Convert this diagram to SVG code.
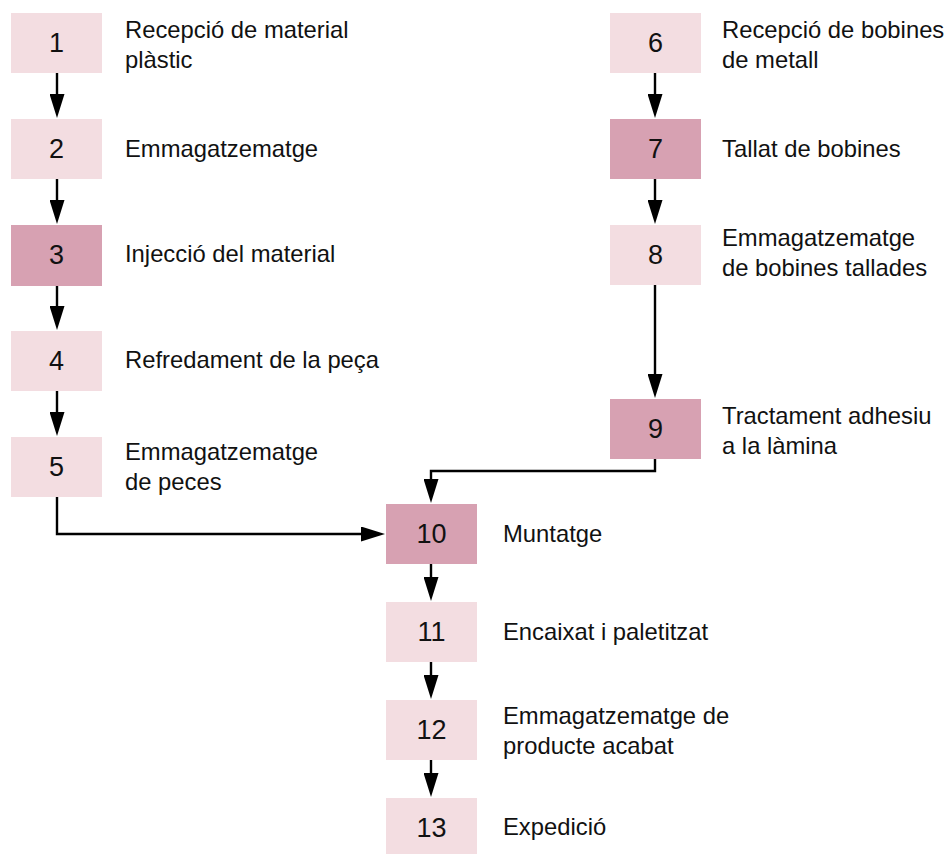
<svg xmlns="http://www.w3.org/2000/svg" width="950" height="854" viewBox="0 0 950 854">
<defs>
<style>
.lt{fill:#F3DDE1}
.dk{fill:#D7A1B2}
.num{font-family:"Liberation Sans",Arial,sans-serif;font-size:27px;fill:#111;text-anchor:middle}
.lbl{font-family:"Liberation Sans",Arial,sans-serif;font-size:23.8px;fill:#111}
.con{fill:none;stroke:#000;stroke-width:2.4;marker-end:url(#ah)}
</style>
<marker id="ah" markerUnits="userSpaceOnUse" markerWidth="24" markerHeight="15" refX="16" refY="7.5" orient="auto">
<path d="M0,0 L24,7.5 L0,15 z" fill="#000"/>
</marker>
</defs>
<rect width="950" height="854" fill="#fff"/>
<g id="connectors">
<path class="con" d="M57,73 V110"/>
<path class="con" d="M57,179 V216"/>
<path class="con" d="M57,286 V322"/>
<path class="con" d="M57,391 V428"/>
<path class="con" d="M57,497 V534 H377"/>
<path class="con" d="M655,73 V110"/>
<path class="con" d="M655,179 V216"/>
<path class="con" d="M655,285 V390"/>
<path class="con" d="M655,459 V471 H431 V495"/>
<path class="con" d="M431,564 V593"/>
<path class="con" d="M431,662 V691"/>
<path class="con" d="M431,760 V789"/>
</g>
<g id="n1"><rect class="lt" x="11" y="13" width="91" height="60"/><text class="num" x="56.5" y="52">1</text><text class="lbl" x="125" y="38">Recepció de material</text><text class="lbl" x="125" y="68">plàstic</text></g>
<g id="n2"><rect class="lt" x="11" y="119" width="91" height="60"/><text class="num" x="56.5" y="158">2</text><text class="lbl" x="125" y="157">Emmagatzematge</text></g>
<g id="n3"><rect class="dk" x="11" y="225" width="91" height="61"/><text class="num" x="56.5" y="264">3</text><text class="lbl" x="125" y="262">Injecció del material</text></g>
<g id="n4"><rect class="lt" x="11" y="331" width="91" height="60"/><text class="num" x="56.5" y="370">4</text><text class="lbl" x="125" y="368">Refredament de la peça</text></g>
<g id="n5"><rect class="lt" x="11" y="437" width="91" height="60"/><text class="num" x="56.5" y="476">5</text><text class="lbl" x="125" y="460">Emmagatzematge</text><text class="lbl" x="125" y="490">de peces</text></g>
<g id="n6"><rect class="lt" x="610" y="13" width="91" height="60"/><text class="num" x="655.5" y="52">6</text><text class="lbl" x="722" y="38">Recepció de bobines</text><text class="lbl" x="722" y="68">de metall</text></g>
<g id="n7"><rect class="dk" x="610" y="119" width="91" height="60"/><text class="num" x="655.5" y="158">7</text><text class="lbl" x="722" y="157">Tallat de bobines</text></g>
<g id="n8"><rect class="lt" x="610" y="225" width="91" height="60"/><text class="num" x="655.5" y="264">8</text><text class="lbl" x="722" y="246">Emmagatzematge</text><text class="lbl" x="722" y="276">de bobines tallades</text></g>
<g id="n9"><rect class="dk" x="610" y="399" width="91" height="60"/><text class="num" x="655.5" y="438">9</text><text class="lbl" x="722" y="424">Tractament adhesiu</text><text class="lbl" x="722" y="454">a la làmina</text></g>
<g id="n10"><rect class="dk" x="386" y="504" width="91" height="60"/><text class="num" x="431.5" y="543">10</text><text class="lbl" x="503" y="542">Muntatge</text></g>
<g id="n11"><rect class="lt" x="386" y="602" width="91" height="60"/><text class="num" x="431.5" y="641">11</text><text class="lbl" x="503" y="640">Encaixat i paletitzat</text></g>
<g id="n12"><rect class="lt" x="386" y="700" width="91" height="60"/><text class="num" x="431.5" y="739">12</text><text class="lbl" x="503" y="724">Emmagatzematge de</text><text class="lbl" x="503" y="754">producte acabat</text></g>
<g id="n13"><rect class="lt" x="386" y="798" width="91" height="60"/><text class="num" x="431.5" y="837">13</text><text class="lbl" x="503" y="835">Expedició</text></g>
</svg>
